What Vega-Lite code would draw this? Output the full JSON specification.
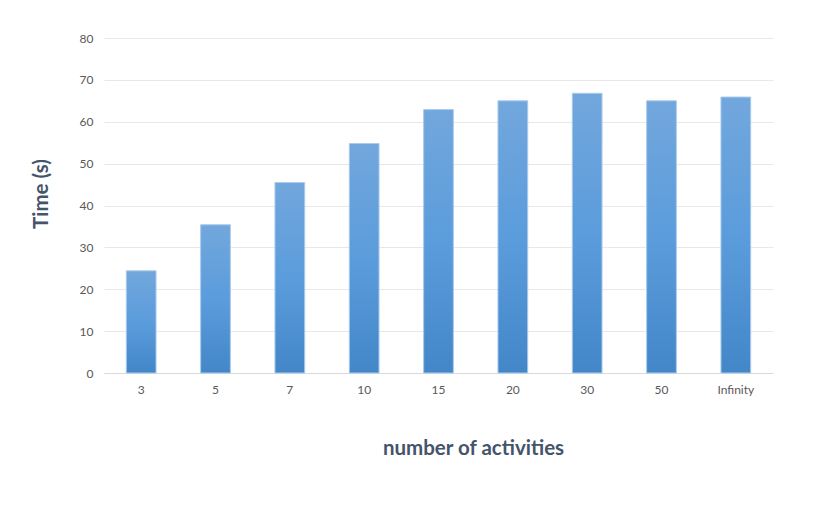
{
  "$schema": "https://vega.github.io/schema/vega-lite/v6.json",
  "width": 669,
  "height": 335,
  "autosize": "none",
  "padding": {"left": 104, "top": 38, "right": 48, "bottom": 152},
  "background": "white",
  "data": {
    "values": [
      {"activities": "3", "time": 24.4},
      {"activities": "5", "time": 35.4},
      {"activities": "7", "time": 45.5},
      {"activities": "10", "time": 54.8},
      {"activities": "15", "time": 62.9},
      {"activities": "20", "time": 65},
      {"activities": "30", "time": 66.8},
      {"activities": "50", "time": 65},
      {"activities": "Infinity", "time": 65.9}
    ]
  },
  "mark": {
    "type": "bar",
    "color": {
      "gradient": "linear",
      "x1": 0, "y1": 0, "x2": 0, "y2": 1,
      "stops": [
        {"offset": 0, "color": "#72a7dc"},
        {"offset": 0.5, "color": "#5b9cdc"},
        {"offset": 1, "color": "#4387c8"}
      ]
    },
    "stroke": "#a9cbec",
    "strokeWidth": 1
  },
  "encoding": {
    "x": {
      "field": "activities",
      "type": "ordinal",
      "sort": null,
      "scale": {"paddingInner": 0.6, "paddingOuter": 0.3},
      "axis": {
        "title": "number of activities",
        "labelAngle": 0,
        "ticks": false,
        "domainColor": "#d9d9d9",
        "labelPadding": 11,
        "titleX": 369,
        "titleY": 81,
        "titleAlign": "center",
        "titleBaseline": "alphabetic",
        "titleAnchor": null
      }
    },
    "y": {
      "field": "time",
      "type": "quantitative",
      "scale": {"domain": [0, 80]},
      "axis": {
        "title": "Time (s)",
        "values": [0, 10, 20, 30, 40, 50, 60, 70, 80],
        "ticks": false,
        "domain": false,
        "labelPadding": 11,
        "titleX": -56.5,
        "titleY": 155.5,
        "titleAngle": -90,
        "titleAlign": "center",
        "titleBaseline": "alphabetic"
      }
    }
  },
  "config": {
    "view": {"stroke": null},
    "axis": {
      "labelFont": "Lato",
      "labelFontSize": 12,
      "labelColor": "#595959",
      "titleFont": "Lato",
      "titleFontSize": 20.5,
      "titleFontWeight": "bold",
      "titleColor": "#44546a",
      "gridColor": "#e8e8e8",
      "gridWidth": 1
    }
  }
}
